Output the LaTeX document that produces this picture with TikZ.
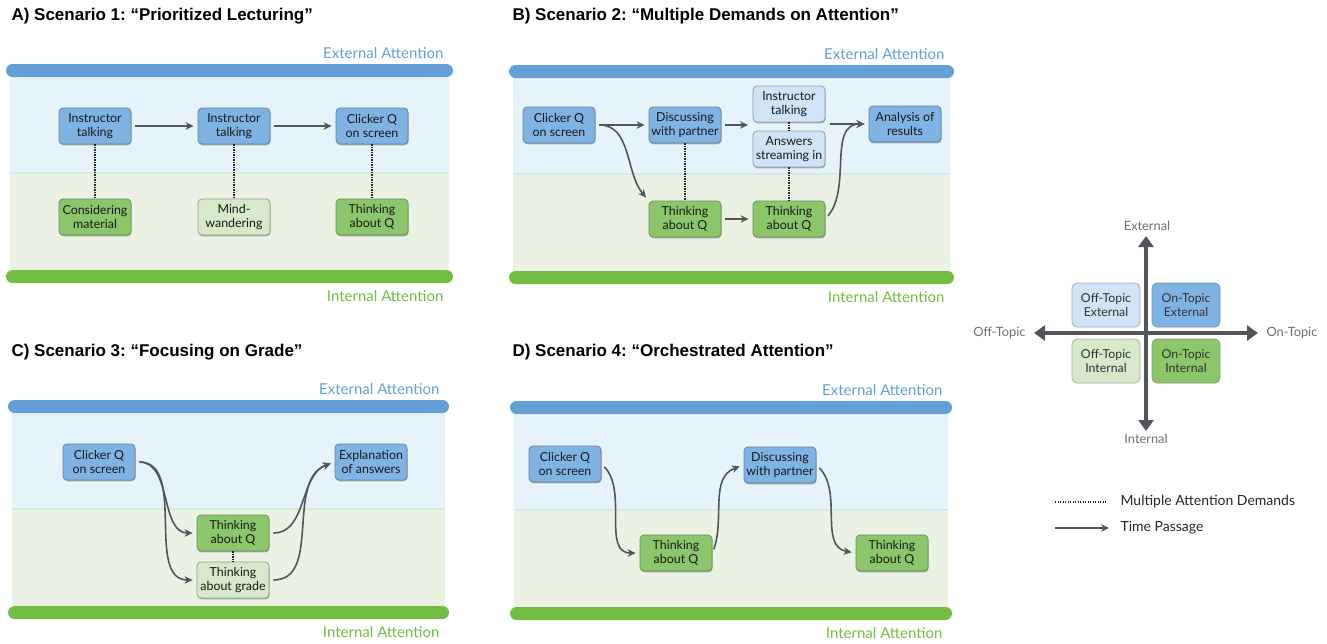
\documentclass[tikz,border=0pt]{standalone}
\usepackage{fontspec}
\setmainfont{Lato}
\newfontfamily\titlefont{Liberation Sans}
\usetikzlibrary{arrows.meta,shadows}

\definecolor{barblue}{HTML}{62A0D6}
\definecolor{bargreen}{HTML}{72BD44}
\definecolor{zoneblue}{HTML}{E7F3FB}
\definecolor{zonegreen}{HTML}{EBF2E3}
\definecolor{zoneline}{HTML}{D5EAE2}
\definecolor{nodeblue}{HTML}{7FB3E3}
\definecolor{nodelblue}{HTML}{CFE4F6}
\definecolor{nodegreen}{HTML}{8BC66B}
\definecolor{nodelgreen}{HTML}{D7E9C9}
\definecolor{arrowgray}{HTML}{52555C}
\definecolor{labelgray}{HTML}{6B6E74}

\begin{document}
\frenchspacing
\begin{tikzpicture}[x=1pt,y=1pt,
    box/.style={rectangle,rounded corners=4pt,minimum width=72pt,minimum height=36pt,inner sep=1.5pt,
      align=center,font=\fontsize{12.4}{14.5}\selectfont,text=black!90,line width=0.8pt,
      drop shadow={shadow xshift=0.6pt,shadow yshift=-1.3pt,opacity=0.3,fill=black}},
    exton/.style={box,fill=nodeblue,draw=nodeblue!55!black!80},
    extoff/.style={box,fill=nodelblue,draw=nodelblue!50!black!70},
    inton/.style={box,fill=nodegreen,draw=nodegreen!55!black!80},
    intoff/.style={box,fill=nodelgreen,draw=nodelgreen!50!black!70},
    quad/.style={rectangle,rounded corners=5pt,minimum width=68pt,minimum height=44pt,inner sep=1pt,
      align=center,font=\fontsize{12.3}{14.5}\selectfont,text=black!80,line width=0.7pt},
    flow/.style={-{Stealth[length=8pt,width=7.5pt,inset=2.5pt]},line width=1.6pt,draw=arrowgray,
      shorten <=4pt,shorten >=4pt},
    demand/.style={line width=1.4pt,dash pattern=on 1.3pt off 1.2pt,draw=black!85},
    axis/.style={{Triangle[length=11pt,width=15pt]}-{Triangle[length=11pt,width=15pt]},line width=4.5pt,draw=arrowgray},
    title/.style={anchor=west,font=\titlefont\bfseries\fontsize{17}{20}\selectfont},
    extlabel/.style={anchor=east,text=barblue,font=\fontsize{15}{17}\selectfont},
    intlabel/.style={anchor=east,text=bargreen,font=\fontsize{15}{17}\selectfont},
    axlabel/.style={text=labelgray,font=\fontsize{12.8}{15}\selectfont},
    legtext/.style={anchor=west,text=black!85,font=\fontsize{14}{17}\selectfont}]
  \useasboundingbox (0,0) rectangle (1327,-643);

  \foreach \px/\py/\w/\p in {6/-64/447/A, 509/-65/445/B, 8/-400/441/C, 510/-401/442/D}{
    \fill[zoneblue] (\px+4,\py-13) rectangle (\px+\w-4,\py-109);
    \fill[zonegreen] (\px+4,\py-109) rectangle (\px+\w-4,\py-206);
    \draw[zoneline,line width=1.2pt] (\px+4,\py-109) -- (\px+\w-4,\py-109);
    \fill[barblue,rounded corners=6.5pt] (\px,\py) rectangle (\px+\w,\py-13);
    \fill[bargreen,rounded corners=6.5pt] (\px,\py-206) rectangle (\px+\w,\py-219);
    \node[extlabel] (ext\p) at (\px+\w-6,\py+11) {External Attention};
    \node[intlabel] (int\p) at (\px+\w-6,\py-232) {Internal Attention};
  }

  \node[title] (ttlA) at (8,-16) {A) Scenario 1: “Prioritized Lecturing”};
  \node[title] (ttlB) at (509,-16) {B) Scenario 2: “Multiple Demands on Attention”};
  \node[title] (ttlC) at (8,-352) {C) Scenario 3: “Focusing on Grade”};
  \node[title] (ttlD) at (509,-352) {D) Scenario 4: “Orchestrated Attention”};

  \node[exton] (itA1) at (95,-126) {Instructor\\talking};
  \node[exton] (itA2) at (234,-126) {Instructor\\talking};
  \node[exton] (cqA) at (372,-126) {Clicker Q\\on screen};
  \node[inton] (cmA) at (95,-217) {Considering\\material};
  \node[intoff] (mwA) at (234,-217) {Mind-\\wandering};
  \node[inton] (thA) at (372,-217) {Thinking\\about Q};
  \draw[flow] (itA1) -- (itA2);
  \draw[flow] (itA2) -- (cqA);
  \draw[demand] (itA1.south) -- (cmA.north);
  \draw[demand] (itA2.south) -- (mwA.north);
  \draw[demand] (cqA.south) -- (thA.north);

  \node[exton] (cqB) at (559,-125) {Clicker Q\\on screen};
  \node[exton] (dwB) at (685,-125) {Discussing\\with partner};
  \node[extoff] (itB) at (789,-104) {Instructor\\talking};
  \node[extoff] (asB) at (789,-149) {Answers\\streaming in};
  \node[exton] (anB) at (905,-124) {Analysis of\\results};
  \node[inton] (thB1) at (685,-219) {Thinking\\about Q};
  \node[inton] (thB2) at (789,-219) {Thinking\\about Q};
  \coordinate (grpinB) at (752,-125);
  \coordinate (grpoutB) at (826,-124);
  \draw[flow] (cqB) -- (dwB);
  \draw[flow] (cqB.east) to[out=0,in=130] (thB1.north west);
  \draw[flow] (dwB.east) -- (grpinB);
  \draw[flow] (thB1) -- (thB2);
  \draw[flow] (grpoutB) -- (anB.west);
  \draw[flow] (thB2.east) to[out=50,in=180] (anB.west);
  \draw[demand] (dwB.south) -- (thB1.north);
  \draw[demand] (itB.south) -- (asB.north);
  \draw[demand] (asB.south) -- (thB2.north);

  \node[exton] (cqC) at (99,-462) {Clicker Q\\on screen};
  \node[exton] (exC) at (371,-462) {Explanation\\of answers};
  \node[inton] (thC) at (233,-533) {Thinking\\about Q};
  \node[intoff] (grC) at (233,-580) {Thinking\\about grade};
  \draw[flow] (cqC.east) to[out=0,in=180] (thC.west);
  \draw[flow] (cqC.east) to[out=0,in=180] (grC.west);
  \draw[flow] (thC.east) to[out=0,in=200] (exC.west);
  \draw[flow] (grC.east) to[out=0,in=200] (exC.west);
  \draw[demand] (thC.south) -- (grC.north);

  \node[exton] (cqD) at (565,-464) {Clicker Q\\on screen};
  \node[inton] (thD1) at (676,-553) {Thinking\\about Q};
  \node[exton] (dwD) at (780,-465) {Discussing\\with partner};
  \node[inton] (thD2) at (892,-553) {Thinking\\about Q};
  \draw[flow] (cqD.east) to[out=-45,in=180] (thD1.west);
  \draw[flow] (thD1.east) to[out=70,in=200] (dwD.west);
  \draw[flow] (dwD.east) to[out=-45,in=170] (thD2.west);

  \coordinate (axN) at (1146,-236);
  \coordinate (axS) at (1146,-431);
  \coordinate (axW) at (1034,-333);
  \coordinate (axE) at (1258,-333);
  \node[quad,fill=nodelblue,draw=nodelblue!50!black!60] (qOE) at (1106,-305) {Off-Topic\\External};
  \node[quad,fill=nodeblue,draw=nodeblue!55!black!70] (qNE) at (1186,-305) {On-Topic\\External};
  \node[quad,fill=nodelgreen,draw=nodelgreen!50!black!60] (qOI) at (1106,-361) {Off-Topic\\Internal};
  \node[quad,fill=nodegreen,draw=nodegreen!55!black!70] (qNI) at (1186,-361) {On-Topic\\Internal};
  \draw[axis] (axS) -- (axN);
  \draw[axis] (axW) -- (axE);
  \node[axlabel] (lblExt) at (1147,-226) {External};
  \node[axlabel] (lblInt) at (1146,-439) {Internal};
  \node[axlabel,anchor=east] (lblOff) at (1029,-333) {Off-Topic};
  \node[axlabel,anchor=west] (lblOn) at (1263,-333) {On-Topic};

  \coordinate (dotL) at (1055,-502);
  \coordinate (dotR) at (1107,-502);
  \coordinate (arrL) at (1055,-528);
  \coordinate (arrR) at (1109,-528);
  \draw[demand,line width=1.2pt] (dotL) -- (dotR);
  \draw[flow,shorten <=0pt,shorten >=0pt] (arrL) -- (arrR);
  \node[legtext] (lgDem) at (1117,-502) {Multiple Attention Demands};
  \node[legtext] (lgTime) at (1117,-528) {Time Passage};
\end{tikzpicture}
\end{document}
